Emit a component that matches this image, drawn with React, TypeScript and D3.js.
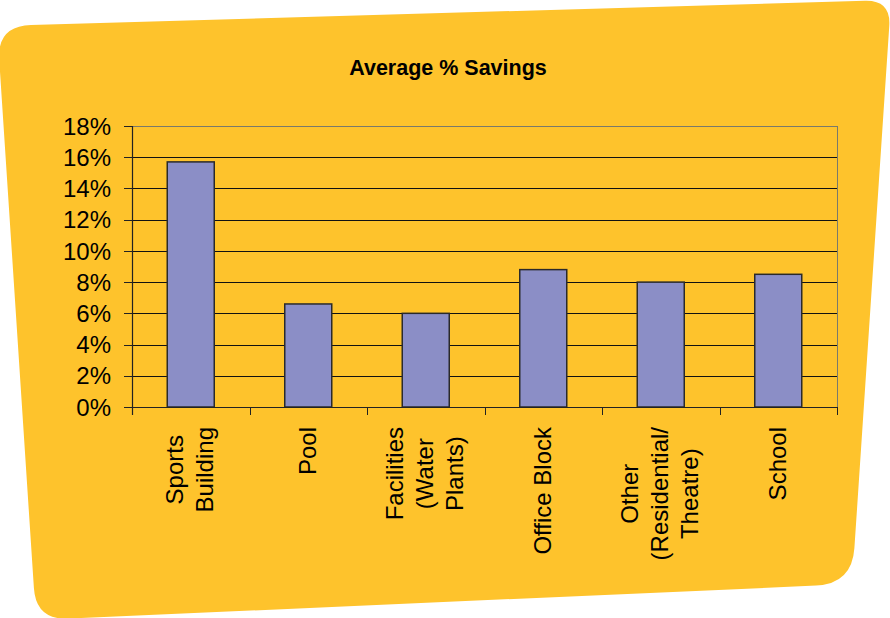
import React from "react";
import * as d3 from "d3";

// Chart data
const categories = [
  "Sports\nBuilding",
  "Pool",
  "Facilities\n(Water\nPlants)",
  "Office Block",
  "Other\n(Residential/\nTheatre)",
  "School",
];
const savings = [0.157, 0.066, 0.06, 0.088, 0.08, 0.085];
const yTickValues = [0, 0.02, 0.04, 0.06, 0.08, 0.1, 0.12, 0.14, 0.16, 0.18];
const title = "Average % Savings";

const W = 890;
const H = 618;
const FONT = "'Liberation Sans', Arial, Helvetica, sans-serif";
const YELLOW = "#FEC32C";
const BAR = "#8B8EC6";

// Plot area
const left = 132;
const right = 837;
const top = 126;
const bottom = 407;

// Card outline: a slanted quadrilateral with rounded corners
const cardVertices: [number, number, number][] = [
  [-3, 26, 34],
  [891, 0, 26],
  [852, 584, 36],
  [36, 620, 32],
];

function roundedPath(pts: [number, number, number][]) {
  const n = pts.length;
  let d = "";
  for (let i = 0; i < n; i++) {
    const [vx, vy, r] = pts[i];
    const [px, py] = pts[(i - 1 + n) % n];
    const [nx, ny] = pts[(i + 1) % n];
    const lp = Math.hypot(px - vx, py - vy);
    const ln = Math.hypot(nx - vx, ny - vy);
    const ax = vx + ((px - vx) / lp) * r;
    const ay = vy + ((py - vy) / lp) * r;
    const bx = vx + ((nx - vx) / ln) * r;
    const by = vy + ((ny - vy) / ln) * r;
    d += (i === 0 ? "M" : "L") + ax + "," + ay + " Q" + vx + "," + vy + " " + bx + "," + by + " ";
  }
  return d + "Z";
}

let measureCtx: CanvasRenderingContext2D | null = null;
function textWidth(s: string, font: string) {
  if (!measureCtx) {
    const c = document.createElement("canvas");
    measureCtx = c.getContext("2d");
  }
  if (!measureCtx) return s.length * 12;
  measureCtx.font = font;
  return measureCtx.measureText(s).width;
}

export default function App() {
  const x = d3
    .scaleBand<string>()
    .domain(categories)
    .range([left, right])
    .paddingInner(0.6)
    .paddingOuter(0.3);
  const y = d3.scaleLinear().domain([0, 0.18]).range([bottom, top]);
  const fmt = d3.format(".0%");
  const step = x.step();
  const boundaries = d3.range(categories.length + 1).map((i) => left + i * step);
  const labelFont = `24px ${FONT}`;
  const lineGap = 30;

  return (
    <svg
      width={W}
      height={H}
      style={{ position: "absolute", left: 0, top: 0, display: "block" }}
    >
      <rect x={0} y={0} width={W} height={H} fill="#ffffff" />
      <path d={roundedPath(cardVertices)} fill={YELLOW} />

      <text
        x={448}
        y={75}
        textAnchor="middle"
        fontFamily={FONT}
        fontWeight="bold"
        fontSize={21.5}
        fill="#000"
      >
        {title}
      </text>

      {/* horizontal gridlines */}
      {yTickValues.slice(1, -1).map((t) => (
        <line
          key={"g" + t}
          x1={left}
          x2={right}
          y1={Math.round(y(t)) + 0.5}
          y2={Math.round(y(t)) + 0.5}
          stroke="#111"
          strokeWidth={1}
        />
      ))}
      {/* plot border top/right */}
      <line x1={left} x2={right} y1={top + 0.5} y2={top + 0.5} stroke="#7a7a6a" strokeWidth={1} />
      <line x1={right + 0.5} x2={right + 0.5} y1={top} y2={bottom} stroke="#7a7a6a" strokeWidth={1} />

      {/* bars */}
      {categories.map((c, i) => (
        <rect
          key={c}
          x={x(c)!}
          y={y(savings[i])}
          width={x.bandwidth()}
          height={bottom - y(savings[i])}
          fill={BAR}
          stroke="#2a2a2a"
          strokeWidth={1.5}
        />
      ))}

      {/* y axis */}
      <line x1={left + 0.5} x2={left + 0.5} y1={top} y2={bottom + 8} stroke="#222" strokeWidth={1.2} />
      {yTickValues.map((t) => (
        <g key={"t" + t}>
          <line
            x1={left - 8}
            x2={left}
            y1={Math.round(y(t)) + 0.5}
            y2={Math.round(y(t)) + 0.5}
            stroke="#222"
            strokeWidth={1}
          />
          <text
            x={111}
            y={y(t)}
            dy="0.36em"
            textAnchor="end"
            fontFamily={FONT}
            fontSize={24}
            fill="#000"
          >
            {fmt(t)}
          </text>
        </g>
      ))}

      {/* x axis */}
      <line x1={left} x2={right + 1} y1={bottom + 0.5} y2={bottom + 0.5} stroke="#222" strokeWidth={1.2} />
      {boundaries.map((b, i) => (
        <line
          key={"xb" + i}
          x1={Math.round(b) + 0.5}
          x2={Math.round(b) + 0.5}
          y1={bottom}
          y2={bottom + 8}
          stroke="#222"
          strokeWidth={1}
        />
      ))}

      {/* rotated category labels */}
      {categories.map((c) => {
        const lines = c.split("\n");
        const maxLen = d3.max(lines, (l) => textWidth(l, labelFont)) || 0;
        const cx = x(c)! + x.bandwidth() / 2;
        const cy = 427 + maxLen / 2;
        return (
          <g key={"l" + c} transform={`translate(${cx},${cy}) rotate(-90)`}>
            {lines.map((l, j) => (
              <text
                key={j}
                x={0}
                y={(j - (lines.length - 1) / 2) * lineGap + 7.5}
                textAnchor="middle"
                fontFamily={FONT}
                fontSize={24}
                fill="#000"
              >
                {l}
              </text>
            ))}
          </g>
        );
      })}
    </svg>
  );
}
